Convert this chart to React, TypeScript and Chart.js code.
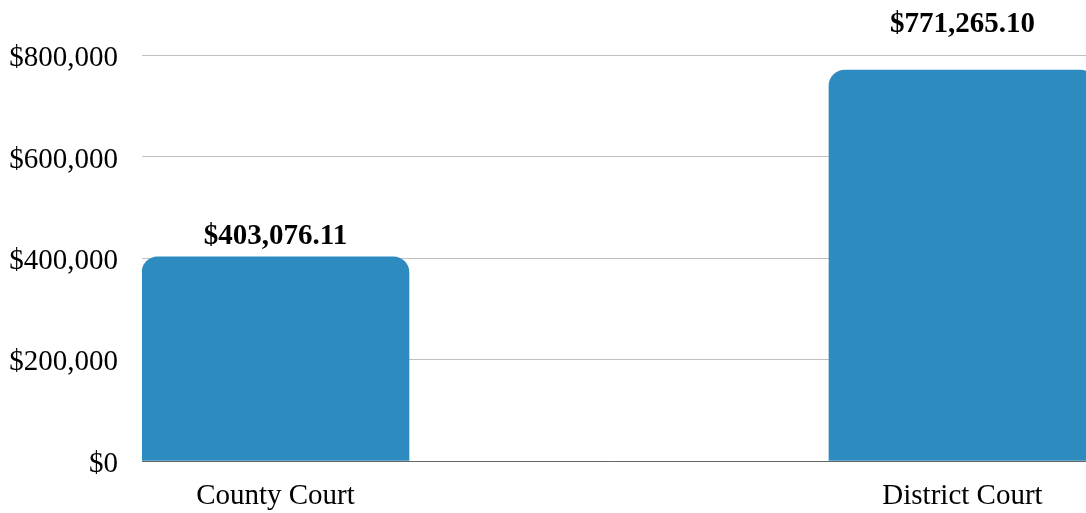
import React, { useEffect, useRef } from "react";
import { Chart, registerables } from "chart.js";

Chart.register(...registerables);

const categories = ["County Court", "District Court"];
const amounts = [403076.11, 771265.1];
const yTickValues = [0, 200000, 400000, 600000, 800000];

const FONT = "'Liberation Serif', 'Times New Roman', serif";
const BAR_COLOR = "#2e8bc0";

const fmtMoney = (v: number) =>
  "$" + v.toLocaleString("en-US", { minimumFractionDigits: 2, maximumFractionDigits: 2 });
const fmtTick = (v: number) => "$" + v.toLocaleString("en-US");

const valueLabels = {
  id: "valueLabels",
  afterDatasetsDraw(chart: any) {
    const { ctx } = chart;
    const yScale = chart.scales.y;
    const meta = chart.getDatasetMeta(0);
    ctx.save();
    ctx.font = `bold 29px ${FONT}`;
    ctx.fillStyle = "#000";
    ctx.textAlign = "center";
    ctx.textBaseline = "alphabetic";
    meta.data.forEach((bar: any, i: number) => {
      let y = bar.y - 13;
      const textTop = y - 20;
      // keep the label clear of gridlines: move above a line it would cross
      yTickValues.forEach((t) => {
        const gy = yScale.getPixelForValue(t);
        if (gy >= textTop - 2 && gy <= y + 6) {
          y = Math.min(y, gy - 24);
        }
      });
      ctx.fillText(fmtMoney(amounts[i]), bar.x, y);
    });
    ctx.restore();
  },
};

export default function App() {
  const ref = useRef<HTMLCanvasElement | null>(null);

  useEffect(() => {
    document.body.style.margin = "0";
    if (!ref.current) return;
    const chart = new Chart(ref.current, {
      type: "bar",
      data: {
        datasets: [
          {
            data: amounts.map((v, i) => ({ x: i, y: v })),
            backgroundColor: BAR_COLOR,
            borderRadius: { topLeft: 16, topRight: 16, bottomLeft: 0, bottomRight: 0 },
            borderSkipped: "bottom",
            barThickness: 267,
          },
        ],
      },
      options: {
        animation: false,
        responsive: false,
        layout: { padding: { top: 15, left: 0, right: 0, bottom: 0 } },
        plugins: { legend: { display: false }, tooltip: { enabled: false } },
        scales: {
          x: {
            type: "linear",
            offset: false,
            min: -0.1943,
            max: 1.1798,
            afterBuildTicks: (s: any) => {
              s.ticks = categories.map((_, i) => ({ value: i }));
            },
            afterFit: (s: any) => {
              s.height = 52;
              s.paddingLeft = 0;
              s.paddingRight = 0;
            },
            grid: { display: false, drawTicks: false },
            border: { display: true, color: "#666666", width: 1 },
            ticks: {
              padding: 18,
              color: "#000",
              font: { family: FONT, size: 29 },
              callback: (v: any) => categories[v] ?? "",
              maxRotation: 0,
              autoSkip: false,
            },
          },
          y: {
            min: 0,
            max: 880000,
            afterBuildTicks: (s: any) => {
              s.ticks = yTickValues.map((v) => ({ value: v }));
            },
            afterFit: (s: any) => {
              s.width = 142;
              s.paddingTop = 0;
              s.paddingBottom = 0;
            },
            grid: { color: "#bfbfbf", lineWidth: 1, drawTicks: false },
            border: { display: false },
            ticks: {
              padding: 24,
              labelOffset: 3,
              color: "#000",
              font: { family: FONT, size: 29 },
              callback: (v: any) => fmtTick(Number(v)),
            },
          },
        },
      },
      plugins: [valueLabels],
    });
    return () => chart.destroy();
  }, []);

  return <canvas ref={ref} width={1086} height={513} style={{ display: "block" }} />;
}
